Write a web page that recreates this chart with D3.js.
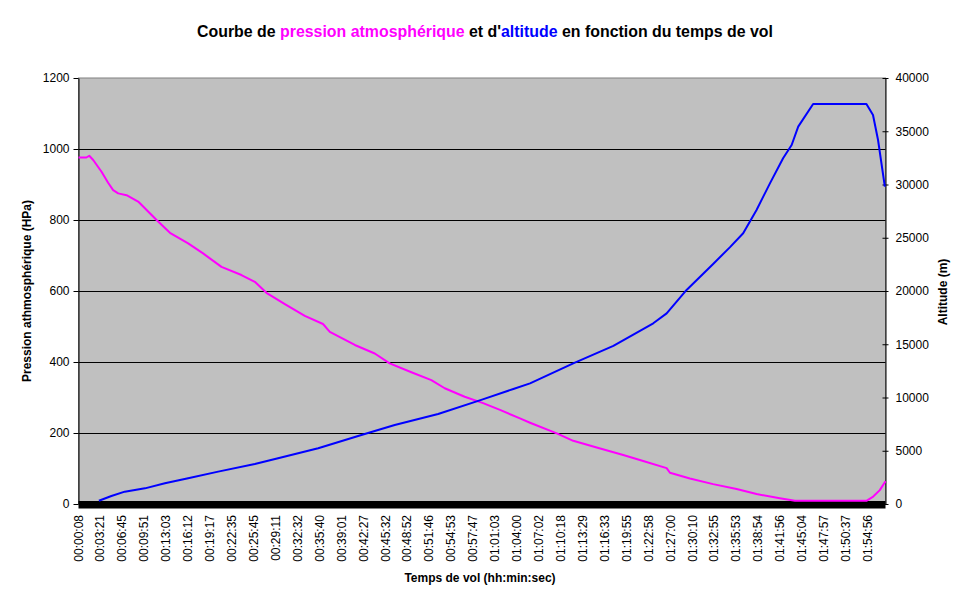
<!DOCTYPE html>
<html>
<head>
<meta charset="utf-8">
<script src="https://cdn.jsdelivr.net/npm/d3@7/dist/d3.min.js"></script>
<style>
  html, body { margin: 0; padding: 0; background: #ffffff; }
  svg { display: block; font-family: Arial, "Liberation Sans", sans-serif; }
</style>
</head>
<body>
<svg id="chart" width="970" height="604"></svg>
<script>
// ---------- DATA ----------
const xLabels = ["00:00:08","00:03:21","00:06:45","00:09:51","00:13:03","00:16:12","00:19:17","00:22:35","00:25:45","00:29:11","00:32:32","00:35:40","00:39:01","00:42:27","00:45:32","00:48:52","00:51:46","00:54:53","00:57:47","01:01:03","01:04:00","01:07:02","01:10:18","01:13:29","01:16:33","01:19:55","01:22:58","01:27:00","01:30:10","01:32:55","01:35:53","01:38:54","01:41:56","01:45:04","01:47:57","01:50:37","01:54:56"];
const sampleCount = 369;      // number of recorded samples (categories)
const labelEvery = 10;        // one label every 10 samples

const leftTicks = [0, 200, 400, 600, 800, 1000, 1200];
const rightTicks = [0, 5000, 10000, 15000, 20000, 25000, 30000, 35000, 40000];

// [sample index, pressure hPa]
const pressureSamples = [
  [0,976],[3.6,976],[4.9,981],[6.7,969],[10.5,936],[13.5,905],[15.8,884],[18.1,875],
  [21.9,870],[27.2,852],[35.6,800],[41.7,764],[50,734],[56.8,706],[65.2,668],[74.3,645],
  [80.4,626],[85.7,595],[94.1,563],[103.2,530],[111.5,507],[114.6,485],[126,448],[135.1,424],
  [141.9,396],[151.8,371],[160.9,349],[167,326],[176.1,302],[184.5,284],[192.2,265],[201.3,241],
  [205.9,229],[218.1,199],[225.6,178],[236.3,159],[248.4,138],[257.5,121],[268.2,101],[269.7,88],
  [278.8,72],[289.4,56],[300.1,42],[309.2,28],[319.8,16],[326.7,9],[359.3,9],[362.4,21],
  [365.4,39],[368,64]
];

// [sample index, altitude m]
const altitudeSamples = [
  [9.3,310],[15,750],[21.1,1160],[30.3,1470],[39.4,1940],[50,2410],[63.7,3040],[80.4,3760],
  [91,4290],[109.3,5230],[129,6480],[144.2,7420],[164,8450],[184,9800],[198.3,10800],[205.9,11330],
  [225.6,13210],[243.9,14840],[262.1,16970],[268.2,17900],[277.3,20100],[289.4,22540],[297,24100],
  [303.1,25420],[309.2,27610],[315.3,30110],[321.3,32460],[325.2,33710],[328.2,35430],[335,37560],
  [359.3,37560],[362.3,36530],[364.6,34180],[367.7,29800]
];

// ---------- CHART ----------
const svg = d3.select("#chart");
const plot = { left: 78.5, right: 885.5, top: 78, bottom: 504 };
const FONT = "Arial, 'Liberation Sans', sans-serif";

const x = d3.scaleLinear().domain([0, sampleCount - 1]).range([plot.left, plot.right]);
const yL = d3.scaleLinear().domain([0, 1200]).range([plot.bottom, plot.top]);
const yR = d3.scaleLinear().domain([0, 40000]).range([plot.bottom, plot.top]);

// Plot area background
svg.append("rect")
  .attr("x", plot.left).attr("y", plot.top)
  .attr("width", plot.right - plot.left).attr("height", plot.bottom - plot.top)
  .attr("fill", "#c0c0c0").attr("stroke", "#808080").attr("stroke-width", 1);

// Gridlines
svg.append("g").selectAll("line")
  .data(leftTicks.filter(d => d > 0 && d < 1200))
  .join("line")
  .attr("x1", plot.left).attr("x2", plot.right)
  .attr("y1", d => Math.round(yL(d)) + 0.5).attr("y2", d => Math.round(yL(d)) + 0.5)
  .attr("stroke", "#000").attr("stroke-width", 1);

// Floor band
svg.append("rect")
  .attr("x", plot.left).attr("y", plot.bottom - 3)
  .attr("width", plot.right - plot.left).attr("height", 7.5)
  .attr("fill", "#000");

// Left axis
const gL = svg.append("g").attr("transform", `translate(${plot.left},0)`)
  .call(d3.axisLeft(yL).tickValues(leftTicks).tickFormat(d3.format("d"))
    .tickSizeInner(5).tickSizeOuter(0).tickPadding(4));
gL.select(".domain").attr("stroke", "#000");
gL.selectAll("text").attr("font-size", 12).attr("fill", "#000").attr("font-family", FONT);

// Right axis
const gR = svg.append("g").attr("transform", `translate(${plot.right},0)`)
  .call(d3.axisRight(yR).tickValues(rightTicks).tickFormat(d3.format("d"))
    .tickSizeInner(3).tickSizeOuter(0).tickPadding(7));
gR.select(".domain").attr("stroke", "#000");
gR.selectAll(".tick line").attr("x1", -3);
gR.selectAll("text").attr("font-size", 12).attr("fill", "#000").attr("font-family", FONT);

// X category labels
svg.append("g").selectAll("text")
  .data(xLabels)
  .join("text")
  .attr("transform", (d, i) => `translate(${x(i * labelEvery) + 4},515) rotate(-90)`)
  .attr("text-anchor", "end")
  .attr("font-size", 12)
  .attr("fill", "#000")
  .text(d => d);

// Lines
const linePres = d3.line().x(d => x(d[0])).y(d => yL(d[1]));
const lineAlt = d3.line().x(d => x(d[0])).y(d => yR(d[1]));

svg.append("path").datum(pressureSamples)
  .attr("d", linePres).attr("fill", "none")
  .attr("stroke", "#ff00ff").attr("stroke-width", 2).attr("stroke-linejoin", "round");

svg.append("path").datum(altitudeSamples)
  .attr("d", lineAlt).attr("fill", "none")
  .attr("stroke", "#0000ff").attr("stroke-width", 2).attr("stroke-linejoin", "round");

// Title
const title = svg.append("text")
  .attr("x", 485).attr("y", 37)
  .attr("text-anchor", "middle")
  .attr("font-size", 15.9)
  .attr("font-weight", "bold")
  .attr("fill", "#000");
title.append("tspan").text("Courbe de ");
title.append("tspan").attr("fill", "#ff00ff").text("pression atmosphérique");
title.append("tspan").text(" et d'");
title.append("tspan").attr("fill", "#0000ff").text("altitude");
title.append("tspan").text(" en fonction du temps de vol");

// Axis titles
svg.append("text")
  .attr("transform", "translate(31,291) rotate(-90)")
  .attr("text-anchor", "middle")
  .attr("font-size", 12).attr("font-weight", "bold")
  .text("Pression athmosphérique (HPa)");

svg.append("text")
  .attr("transform", "translate(947,292) rotate(-90)")
  .attr("text-anchor", "middle")
  .attr("font-size", 12).attr("font-weight", "bold")
  .text("Altitude (m)");

svg.append("text")
  .attr("x", 480).attr("y", 582)
  .attr("text-anchor", "middle")
  .attr("font-size", 12).attr("font-weight", "bold")
  .text("Temps de vol (hh:min:sec)");
</script>
</body>
</html>
